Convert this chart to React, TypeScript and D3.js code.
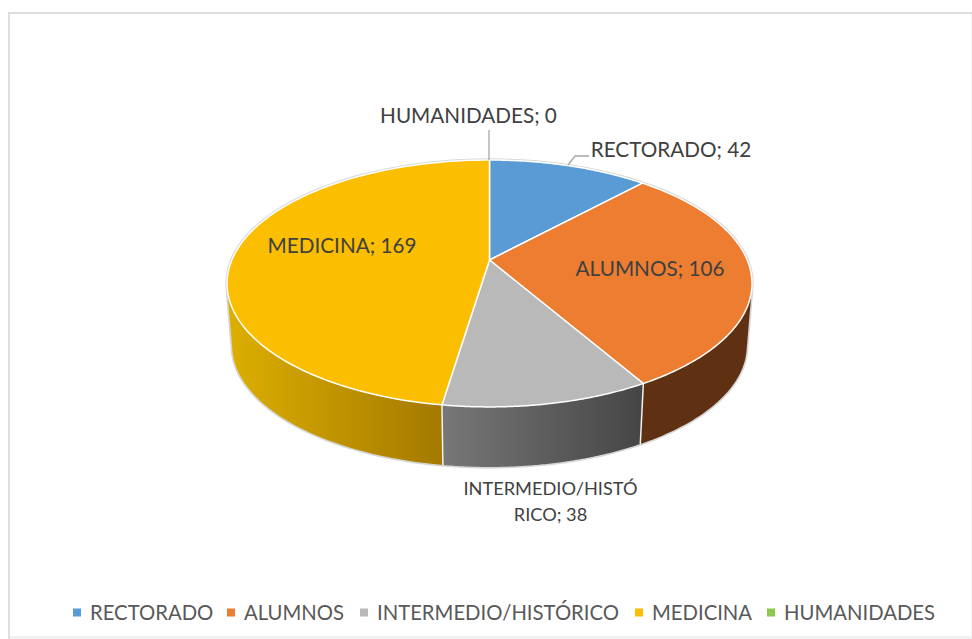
import React from "react";
import * as d3 from "d3";

const categories = ["RECTORADO", "ALUMNOS", "INTERMEDIO/HISTÓRICO", "MEDICINA", "HUMANIDADES"];
const values = [42, 106, 38, 169, 0];
const colors = ["#5b9bd5", "#ed7d31", "#b9b9b9", "#fbbe00", "#8cc84b"];

const width = 972;
const height = 639;

// perspective mapping of the pie disc: u,v on the unit circle -> screen
const cx = 489.5;
const cy = 260;
const persp = -0.19;
const kx = 257.7;
const ky = 69.6;

const project = (a: number) => {
  const u = Math.sin(a);
  const v = -Math.cos(a);
  const w = 1 + persp * v;
  return [cx + (kx * u) / w, (cy + ky * v) / w] as [number, number];
};

// bottom face is the top face, slightly smaller and moved down
const projectBottom = (a: number) => {
  const [x, y] = project(a);
  return [cx + 0.98 * (x - cx), 323 + 0.98 * (y - cy)] as [number, number];
};

const arcPoints = (a0: number, a1: number, fn: (a: number) => [number, number]) =>
  d3.range(0, 101).map((i) => fn(a0 + ((a1 - a0) * i) / 100));

// hull of both faces, so the walls get the straight silhouette at the sides
const wallPath = (a0: number, a1: number) =>
  line(d3.polygonHull([...arcPoints(a0, a1, project), ...arcPoints(a0, a1, projectBottom)])!)! + "Z";

const line = d3.line();

const pie = d3.pie<number>().sort(null);
const slices = pie(values);

const sideFill = ["#3a5f82", "#5f3011", "url(#sideGray)", "url(#sideGold)", "#5f8a30"];
// walls are painted back to front
const wallOrder = [3, 1, 2];

const legendX = [73, 227, 360, 635, 767];
const labelColor = "#404040";
const legendColor = "#595959";
const fontFamily = "Lato, 'Open Sans', sans-serif";

export default function App() {
  return (
    <svg
      width={width}
      height={height}
      style={{ position: "absolute", left: 0, top: 0, background: "#fff" }}
    >
      <defs>
        <linearGradient id="sideGold" gradientUnits="userSpaceOnUse" x1="230" x2="443" y1="0" y2="0">
          <stop offset="0" stopColor="#dcae00" />
          <stop offset="1" stopColor="#a37900" />
        </linearGradient>
        <linearGradient id="sideGray" gradientUnits="userSpaceOnUse" x1="443" x2="640" y1="0" y2="0">
          <stop offset="0" stopColor="#777777" />
          <stop offset="1" stopColor="#464646" />
        </linearGradient>
      </defs>

      {/* chart frame, fading out on the bottom and right */}
      <path d={line([[9, 639], [9, 13], [972, 13]])!} fill="none" stroke="#dedede" strokeWidth={2} />
      <path d={line([[10, 637.5], [972, 637.5]])!} fill="none" stroke="#f1f1f1" strokeWidth={3} />
      <path d={line([[971.5, 14], [971.5, 636]])!} fill="none" stroke="#f1f1f1" strokeWidth={1} />

      {/* outer rim of the whole pie */}
      <path d={wallPath(0, 2 * Math.PI)} fill="none" stroke="#d6d6d6" strokeWidth={3.5} />

      {/* side walls */}
      {wallOrder.map((i) => (
        <path key={categories[i]} d={wallPath(slices[i].startAngle, slices[i].endAngle)} fill={sideFill[i]} />
      ))}

      {/* white edges between the side walls */}
      {[slices[1].endAngle, slices[2].endAngle].map((a) => (
        <path key={a} d={line([project(a), projectBottom(a)])!} stroke="#f2f2f2" strokeWidth={1.5} />
      ))}

      {/* top faces */}
      {slices.map((s, i) =>
        s.value === 0 ? null : (
          <path
            key={categories[i]}
            d={line([[cx, cy], ...arcPoints(s.startAngle, s.endAngle, project)])! + "Z"}
            fill={colors[i]}
            stroke="#fff"
            strokeWidth={1.5}
            strokeLinejoin="round"
          />
        ),
      )}

      {/* leader lines */}
      <path d={line([[489, 160], [489, 130]])!} stroke="#a6a6a6" strokeWidth={1.3} fill="none" />
      <path d={line([[568, 165], [575, 156], [589, 156]])!} stroke="#a6a6a6" strokeWidth={1.3} fill="none" />

      {/* data labels */}
      <g fontFamily={fontFamily} fontSize={20.7} fill={labelColor}>
        <text x={468.5} y={122.5} textAnchor="middle">{`${categories[4]}; ${values[4]}`}</text>
        <text x={671} y={156.5} textAnchor="middle">{`${categories[0]}; ${values[0]}`}</text>
        <text x={650} y={275.5} textAnchor="middle">{`${categories[1]}; ${values[1]}`}</text>
        <text x={342} y={252.5} textAnchor="middle">{`${categories[3]}; ${values[3]}`}</text>
        <g fontSize={18.2}>
          <text x={550.5} y={495} textAnchor="middle">INTERMEDIO/HISTÓ</text>
          <text x={550.5} y={521} textAnchor="middle">{`RICO; ${values[2]}`}</text>
        </g>
      </g>

      {/* legend */}
      <g fontFamily={fontFamily} fontSize={20.3} fill={legendColor}>
        {categories.map((c, i) => (
          <g key={c} transform={`translate(${legendX[i]},0)`}>
            <rect x={0} y={608.5} width={8} height={8} fill={colors[i]} />
            <text x={17} y={619.5}>{c}</text>
          </g>
        ))}
      </g>
    </svg>
  );
}
